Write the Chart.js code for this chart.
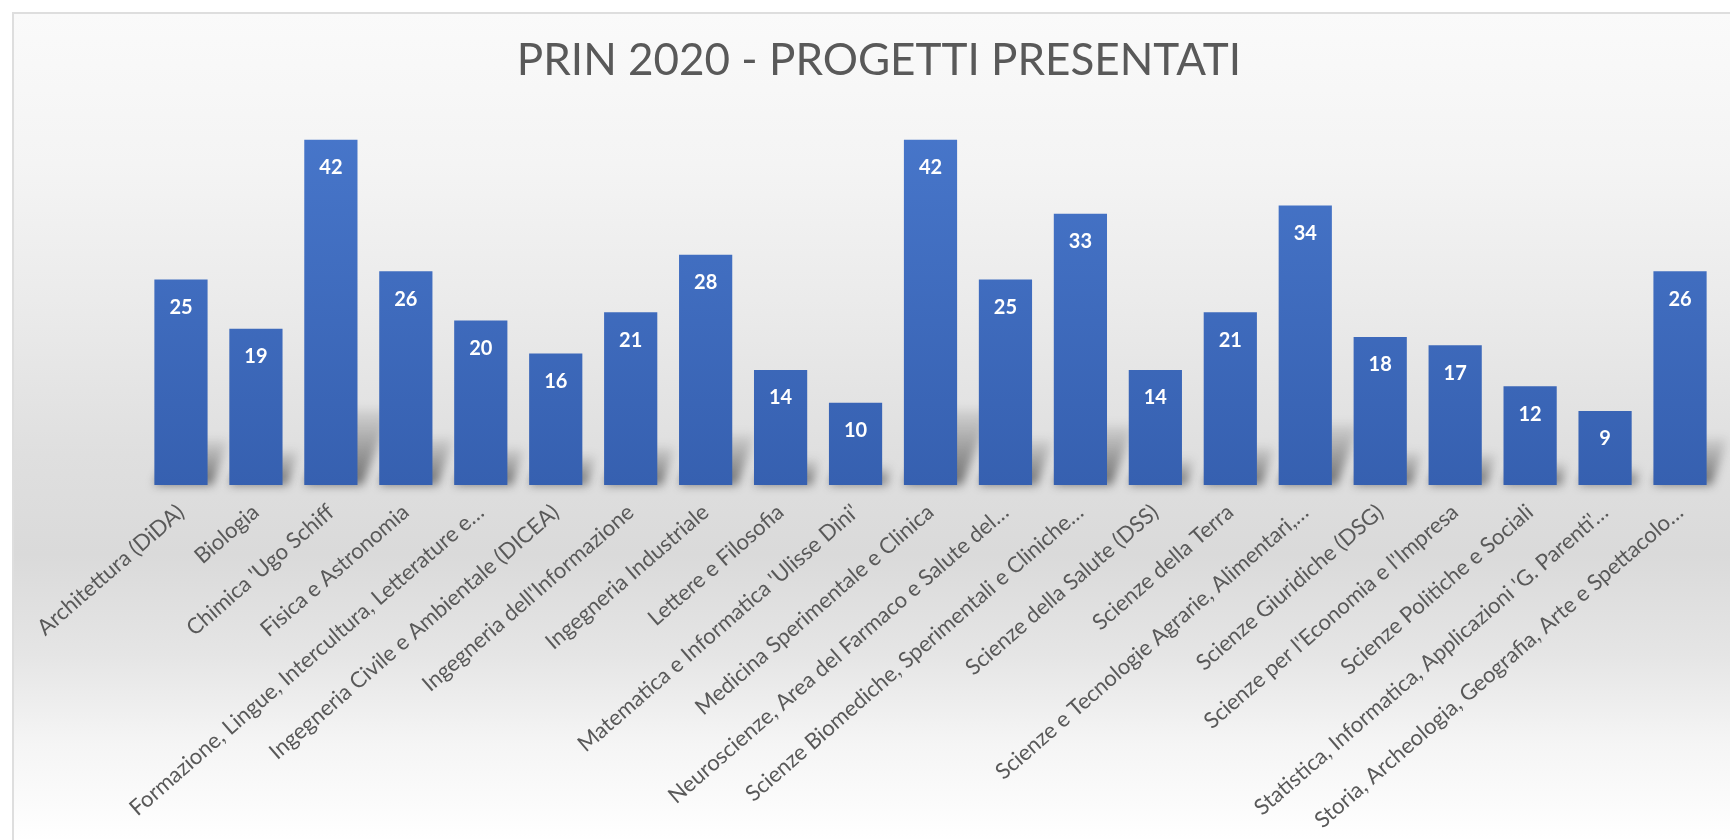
<!DOCTYPE html>
<html>
<head>
<meta charset="utf-8">
<script src="https://cdn.jsdelivr.net/npm/chart.js@4/dist/chart.umd.min.js"></script>
<style>
html,body{margin:0;padding:0;width:1730px;height:840px;overflow:hidden;background:#ffffff;}
#frame{position:absolute;left:12px;top:12px;width:1740px;height:850px;border:2px solid #dedede;box-sizing:border-box;
background:linear-gradient(to bottom,#fafafa 0px,#f4f4f4 150px,#eaeaea 300px,#dfdfdf 440px,#dadada 540px,#e5e5e5 640px,#f5f5f5 730px,#ffffff 828px);}
#wrap{position:absolute;left:0;top:0;width:1730px;height:840px;}
</style>
</head>
<body>
<div id="frame"></div>
<div id="wrap"><canvas id="c" width="1730" height="840"></canvas></div>
<script>
const titleText = 'PRIN 2020 - PROGETTI PRESENTATI';
const categories = [
  'Architettura (DiDA)',
  'Biologia',
  "Chimica 'Ugo Schiff",
  'Fisica e Astronomia',
  'Formazione, Lingue, Intercultura, Letterature e…',
  'Ingegneria Civile e Ambientale (DICEA)',
  "Ingegneria dell'Informazione",
  'Ingegneria Industriale',
  'Lettere e Filosofia',
  "Matematica e Informatica 'Ulisse Dini'",
  'Medicina Sperimentale e Clinica',
  'Neuroscienze, Area del Farmaco e Salute del…',
  'Scienze Biomediche, Sperimentali e Cliniche…',
  'Scienze della Salute (DSS)',
  'Scienze della Terra',
  'Scienze e Tecnologie Agrarie, Alimentari,…',
  'Scienze Giuridiche (DSG)',
  "Scienze per l'Economia e l'Impresa",
  'Scienze Politiche e Sociali',
  "Statistica, Informatica, Applicazioni 'G. Parenti'…",
  'Storia, Archeologia, Geografia, Arte e Spettacolo…'
];
const values = [25, 19, 42, 26, 20, 16, 21, 28, 14, 10, 42, 25, 33, 14, 21, 34, 18, 17, 12, 9, 26];

const titlePlugin = {
  id: 'pageTitle',
  afterDraw(chart) {
    const ctx = chart.ctx;
    ctx.save();
    ctx.fillStyle = '#595959';
    ctx.font = '44px Lato';
    ctx.textAlign = 'center';
    ctx.textBaseline = 'middle';
    ctx.fillText(titleText, 879, 61);
    ctx.restore();
  }
};

const shadowPlugin = {
  id: 'barShadow',
  beforeDatasetsDraw(chart) {
    const ctx = chart.ctx;
    const meta = chart.getDatasetMeta(0);
    ctx.save();
    ctx.filter = 'blur(5px)';
    meta.data.forEach(el => {
      const h = el.base - el.y;
      const w = el.width;
      const sh = h * 0.22;
      const dx = sh * 0.45;
      const g = ctx.createLinearGradient(0, el.base, 0, el.base - sh);
      g.addColorStop(0, 'rgba(50,50,50,0.65)');
      g.addColorStop(1, 'rgba(50,50,50,0.08)');
      ctx.fillStyle = g;
      ctx.beginPath();
      ctx.moveTo(el.x - w / 2, el.base);
      ctx.lineTo(el.x + w / 2 + 5, el.base);
      ctx.lineTo(el.x + w / 2 + dx, el.base - sh);
      ctx.lineTo(el.x - w / 2 + dx, el.base - sh);
      ctx.closePath();
      ctx.fill();
    });
    ctx.restore();
  }
};

const valueLabelPlugin = {
  id: 'valueLabels',
  afterDatasetsDraw(chart) {
    const ctx = chart.ctx;
    const meta = chart.getDatasetMeta(0);
    const ds = chart.data.datasets[0];
    ctx.save();
    ctx.fillStyle = '#ffffff';
    ctx.font = 'bold 20px Lato';
    ctx.textAlign = 'center';
    ctx.textBaseline = 'middle';
    meta.data.forEach((el, i) => {
      ctx.fillText(String(ds.data[i]), el.x, el.y + 28);
    });
    ctx.restore();
  }
};

const ctx = document.getElementById('c').getContext('2d');
new Chart(ctx, {
  type: 'bar',
  data: {
    labels: categories,
    datasets: [{
      data: values,
      backgroundColor: (c) => {
        const area = c.chart.chartArea;
        if (!area) return '#4472c4';
        const g = c.chart.ctx.createLinearGradient(0, area.top, 0, area.bottom);
        g.addColorStop(0, '#4877cb');
        g.addColorStop(1, '#3660b0');
        return g;
      },
      borderWidth: 0,
      barPercentage: 0.71,
      categoryPercentage: 1.0
    }]
  },
  options: {
    responsive: false,
    animation: false,
    layout: { padding: { left: 143.5, right: 12.5, top: 115, bottom: 0 } },
    plugins: {
      legend: { display: false },
      tooltip: { enabled: false },
      title: { display: false, text: titleText }
    },
    scales: {
      x: {
        grid: { display: false },
        border: { display: false },
        ticks: {
          autoSkip: false,
          maxRotation: 41,
          minRotation: 41,
          color: '#595959',
          padding: 6,
          font: { family: 'Lato', size: 22 }
        },
        afterFit: (scale) => { scale.height = 355; }
      },
      y: {
        display: false,
        min: 0,
        max: 45
      }
    }
  },
  plugins: [shadowPlugin, valueLabelPlugin, titlePlugin]
});
</script>
</body>
</html>
